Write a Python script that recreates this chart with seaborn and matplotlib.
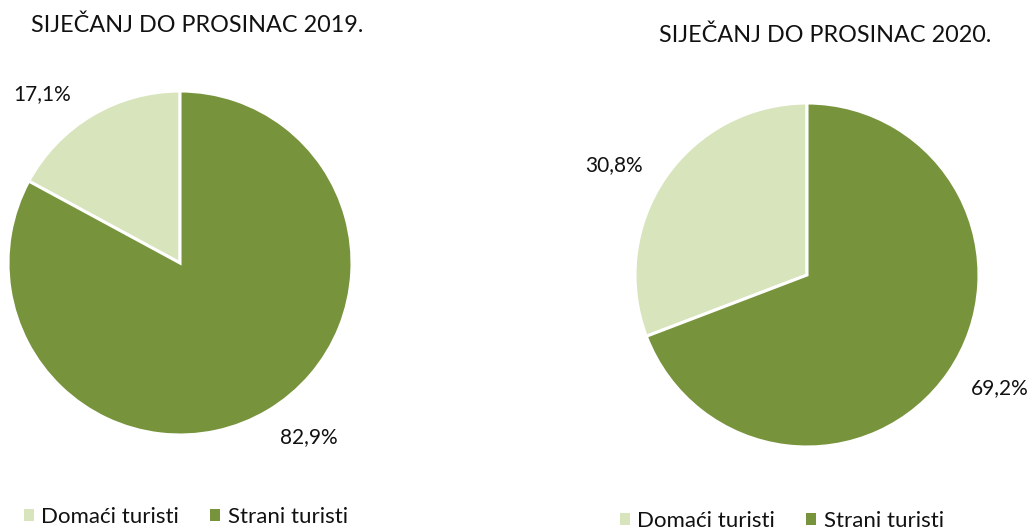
import matplotlib
matplotlib.use("Agg")
import matplotlib.pyplot as plt
import seaborn as sns
from matplotlib.patches import Patch

# --- DATA ---
categories = ["Domaći turisti", "Strani turisti"]
share_2019 = [17.1, 82.9]
share_2020 = [30.8, 69.2]
titles = ["SIJEČANJ DO PROSINAC 2019.", "SIJEČANJ DO PROSINAC 2020."]
colors = ["#D8E4BC", "#77933C"]

sns.set_theme(style="white")
plt.rcParams['font.family'] = ['Lato', 'DejaVu Sans']

W, H = 1032, 529
fig = plt.figure(figsize=(W / 100, H / 100), dpi=100)


def pct_fmt(p):
    return f"{p:.1f}%".replace('.', ',')


def draw_pie(cx, cy, r, values, label_xy):
    # cx, cy, r in pixels (y from top); label_xy = label spots in pie units
    ax = fig.add_axes([(cx - r) / W, (H - cy - r) / H, 2 * r / W, 2 * r / H])
    wedges, texts, autotexts = ax.pie(
        values, colors=colors, startangle=90, counterclock=True,
        autopct=pct_fmt,
        wedgeprops=dict(edgecolor="white", linewidth=2.2),
        textprops=dict(fontsize=15, color="#111111"))
    for t, xy in zip(autotexts, label_xy):
        t.set_position(xy)
    ax.set_xlim(-1, 1)
    ax.set_ylim(-1, 1)
    ax.set_aspect("equal")
    ax.axis("off")
    return ax


draw_pie(180, 263, 172, share_2019, [(-0.80, 0.98), (0.75, -1.01)])
draw_pie(807, 275, 172, share_2020, [(-1.12, 0.64), (1.12, -0.66)])

fig.text(197 / W, 1 - 25 / H, titles[0], ha="center", va="center", fontsize=16.8, color="#111111")
fig.text(825 / W, 1 - 35 / H, titles[1], ha="center", va="center", fontsize=16.8, color="#111111")

handles = [Patch(facecolor=c, edgecolor="none") for c in colors]
for x, y in [(186, 517), (782, 521)]:
    fig.legend(handles, categories, loc="center", bbox_to_anchor=(x / W, 1 - y / H),
               ncol=2, frameon=False, fontsize=16, handlelength=0.42, handleheight=0.42,
               handletextpad=0.35, columnspacing=1.4, labelcolor="#111111",
               borderpad=0, borderaxespad=0)

fig.savefig("out.png", dpi=100)
